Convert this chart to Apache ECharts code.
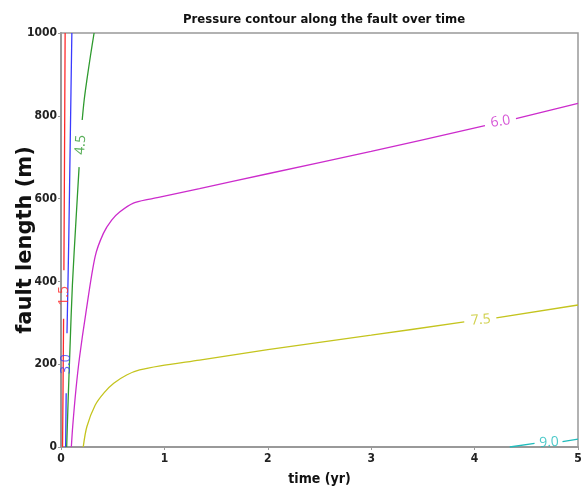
<!DOCTYPE html>
<html>
<head>
<meta charset="utf-8">
<script src="https://cdn.jsdelivr.net/npm/echarts@6/dist/echarts.min.js"></script>
<style>
  html, body { margin: 0; padding: 0; background: #fff; }
  #chart { width: 581px; height: 488px; }
</style>
</head>
<body>
<div id="chart"></div>
<script>
// contour lines, [time (yr), fault length (m)]; null = gap for the label
const line15 = [[0.015, 0], [0.02, 150], [0.025, 310], null, [0.028, 427], [0.034, 700], [0.04, 1000]];
const line30 = [[0.045, 0], [0.05, 130], null, [0.058, 275], [0.075, 500], [0.09, 750], [0.105, 1000]];
const line45 = [[0.055, 0], [0.07, 120], [0.087, 240], [0.11, 390], [0.145, 548], [0.175, 676], null,
  [0.205, 790], [0.225, 840], [0.25, 886], [0.285, 945], [0.32, 1000]];
const line60 = [[0.10, 0], [0.113, 49], [0.145, 140], [0.18, 218], [0.24, 323], [0.33, 460], [0.41, 516],
  [0.49, 548], [0.57, 568], [0.70, 589], [0.86, 599], [1.0, 606], [1.34, 624], [2.0, 660], [3.0, 714],
  [4.1, 776], null, [4.4, 793], [5.0, 830]];
const line75 = [[0.215, 0], [0.25, 49], [0.33, 101], [0.42, 132], [0.51, 154], [0.635, 174], [0.76, 186],
  [0.96, 196], [1.34, 210], [2.0, 235], [3.0, 270], [3.9, 302], null, [4.21, 312], [5.0, 343]];
const line90 = [[4.34, 0], [4.58, 9], null, [4.85, 13], [5.0, 19]];

// contour labels: [time, length], text, angle
const labelPos = [[0.026, 365], [0.052, 200], [0.19, 730], [4.25, 786], [4.06, 307], [4.72, 11]];
const labelText = ['1.5', '3.0', '4.5', '6.0', '7.5', '9.0'];
const labelAngle = [90, 90, 86, 9, 5, 3];
const colors = ['#ff2a2a', '#3a3aff', '#2e9a2e', '#cc2ccc', '#c4c41e', '#1fbcbc'];

const xTicks = [0, 1, 2, 3, 4, 5];
const yTicks = [0, 200, 400, 600, 800, 1000];

const tickFont = '"DejaVu Sans Condensed", "DejaVu Sans", sans-serif';

const chart = echarts.init(document.getElementById('chart'));

const lines = [line15, line30, line45, line60, line75, line90];
const series = lines.map((d, i) => ({
  name: labelText[i],
  type: 'line',
  data: d.map(p => p === null ? [null, null] : p),
  showSymbol: false,
  smooth: 0.3,
  connectNulls: false,
  lineStyle: { color: colors[i], width: 1.3 },
  animation: false,
  z: 3
}));

series.push({
  type: 'scatter',
  symbolSize: 0,
  animation: false,
  silent: true,
  z: 4,
  data: labelPos.map((p, i) => ({
    value: p,
    label: {
      show: true,
      position: 'inside',
      formatter: labelText[i],
      rotate: labelAngle[i],
      color: colors[i],
      fontSize: 14,
      fontFamily: '"Open Sans", "DejaVu Sans", sans-serif'
    }
  }))
});

chart.setOption({
  backgroundColor: '#fff',
  animation: false,
  title: {
    text: 'Pressure contour along the fault over time',
    left: 178,
    top: 8,
    textStyle: { fontFamily: tickFont, fontWeight: 'bold', fontSize: 13, color: '#111' }
  },
  grid: {
    left: 61, right: 3, top: 33, bottom: 41,
    outerBoundsMode: 'none',
    containLabel: false,
    show: true, borderColor: '#999', borderWidth: 1.5
  },
  xAxis: {
    type: 'value',
    min: 0, max: 5, interval: 1,
    name: 'time (yr)',
    nameLocation: 'middle',
    nameGap: 25,
    nameMoveOverlap: false,
    nameTextStyle: { fontFamily: tickFont, fontWeight: 'bold', fontSize: 14, color: '#111' },
    axisLine: { lineStyle: { color: '#999', width: 2 } },
    axisTick: { show: true, length: 3, lineStyle: { color: '#999' } },
    splitLine: { show: false },
    axisLabel: {
      fontFamily: tickFont, fontWeight: 'bold', fontSize: 12, color: '#222', margin: 6,
      formatter: v => xTicks.includes(v) ? String(v) : ''
    }
  },
  yAxis: {
    type: 'value',
    min: 0, max: 1000, interval: 200,
    name: 'fault length (m)',
    nameLocation: 'middle',
    nameGap: 25,
    nameMoveOverlap: false,
    nameTextStyle: { fontFamily: '"DejaVu Sans", sans-serif', fontWeight: 'bold', fontSize: 21, color: '#111' },
    axisLine: { show: true, lineStyle: { color: '#999', width: 2 } },
    axisTick: { show: true, length: 3, lineStyle: { color: '#999' } },
    splitLine: { show: false },
    axisLabel: {
      fontFamily: tickFont, fontWeight: 'bold', fontSize: 12, color: '#222', margin: 4,
      formatter: v => yTicks.includes(v) ? String(v) : ''
    }
  },
  series: series
});
</script>
</body>
</html>
